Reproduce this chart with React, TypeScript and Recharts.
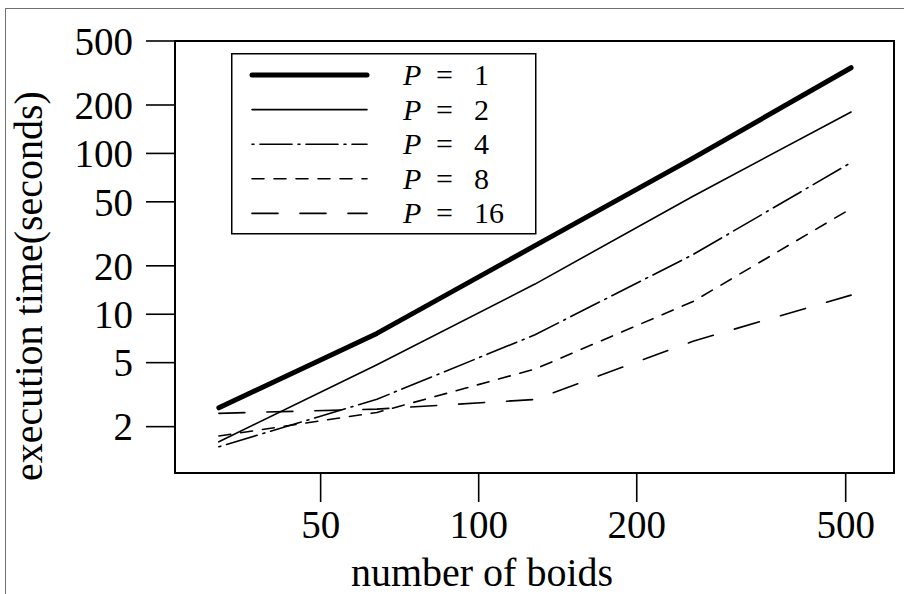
import { LineChart, Line, XAxis, YAxis, Legend, ReferenceArea } from "recharts";

// boids per run and wall-clock time for each processor count
const boids = [32, 64, 128, 256, 512];
const timeP1 = [2.62, 7.6, 26.7, 93.5, 341];
const timeP2 = [1.61, 4.85, 15.4, 54.2, 181];
const timeP4 = [1.5, 2.96, 7.45, 23.5, 87.7];
const timeP8 = [1.75, 2.45, 4.56, 12.0, 45.4];
const timeP16 = [2.42, 2.57, 2.95, 6.8, 13.15];

const xTicks = [50, 100, 200, 500];
const yTicks = [2, 5, 10, 20, 50, 100, 200, 500];

const xDomain = [26.4, 618];
const yDomain = [1.03, 500];

const series = [
  { key: "p1", procs: "1", width: 5, dash: undefined },
  { key: "p2", procs: "2", width: 1.6, dash: undefined },
  { key: "p4", procs: "4", width: 1.6, dash: "2 6 32 6" },
  { key: "p8", procs: "8", width: 1.6, dash: "12 10" },
  { key: "p16", procs: "16", width: 1.6, dash: "26 22" },
];

const data = boids.map((n, i) => ({
  n,
  p1: timeP1[i],
  p2: timeP2[i],
  p4: timeP4[i],
  p8: timeP8[i],
  p16: timeP16[i],
}));

const FONT = "'Liberation Serif', 'Times New Roman', serif";
const tickStyle = { fontFamily: FONT, fontSize: 39, fill: "#000" };

function LegendBox() {
  return (
    <svg width={306} height={182} style={{ display: "block" }}>
      <rect x={0.75} y={0.75} width={304} height={180} fill="#fff" stroke="#000" strokeWidth={1.5} />
      {series.map((s, i) => {
        const cy = 22 + i * 34.6;
        return (
          <g key={s.key}>
            <line
              x1={21}
              x2={136}
              y1={cy}
              y2={cy}
              stroke="#000"
              strokeWidth={s.width}
              strokeDasharray={s.dash}
              strokeLinecap="round"
            />
            <text y={cy + 10} fontFamily={FONT} fontSize={30} fill="#000">
              <tspan x={172} fontStyle="italic">P</tspan>
              <tspan x={205}>=</tspan>
              <tspan x={243}>{s.procs}</tspan>
            </text>
          </g>
        );
      })}
    </svg>
  );
}

function XTitle() {
  return (
    <text x={482} y={586} textAnchor="middle" fontFamily={FONT} fontSize={40} fill="#000">
      number of boids
    </text>
  );
}

function YTitle() {
  return (
    <text
      transform="translate(42,286) rotate(-90)"
      textAnchor="middle"
      fontFamily={FONT}
      fontSize={40}
      fill="#000"
    >
      execution time(seconds)
    </text>
  );
}

export default function App() {
  return (
    <div style={{ position: "absolute", left: 0, top: 0, width: 904, height: 594, background: "#fff", overflow: "hidden" }}>
      <div
        style={{
          position: "absolute",
          left: 5,
          top: 8,
          width: 1000,
          height: 700,
          borderTop: "1px solid #707070",
          borderLeft: "1px solid #707070",
        }}
      />
      <LineChart width={904} height={594} data={data} margin={{ top: 41, right: 10, left: 0, bottom: 0 }}>
        <XAxis
          dataKey="n"
          type="number"
          scale="log"
          domain={xDomain}
          allowDataOverflow
          ticks={xTicks}
          interval={0}
          tick={tickStyle}
          tickSize={29}
          tickMargin={8}
          tickLine={{ stroke: "#000", strokeWidth: 1.6 }}
          axisLine={false}
          height={121}
          label={<XTitle />}
        />
        <YAxis
          type="number"
          scale="log"
          domain={yDomain}
          allowDataOverflow
          ticks={yTicks}
          interval={0}
          tick={tickStyle}
          tickSize={29}
          tickMargin={13}
          tickLine={{ stroke: "#000", strokeWidth: 1.6 }}
          axisLine={false}
          width={175}
          label={<YTitle />}
        />
        <ReferenceArea
          x1={xDomain[0]}
          x2={xDomain[1]}
          y1={yDomain[0]}
          y2={yDomain[1]}
          fill="none"
          fillOpacity={0}
          stroke="#000"
          strokeWidth={2}
          ifOverflow="visible"
        />
        {series.map((s) => (
          <Line
            key={s.key}
            dataKey={s.key}
            name={`P = ${s.procs}`}
            type="linear"
            stroke="#000"
            strokeWidth={s.width}
            strokeDasharray={s.dash}
            strokeLinecap="round"
            strokeLinejoin="round"
            dot={false}
            activeDot={false}
            isAnimationActive={false}
          />
        ))}
        <Legend
          layout="vertical"
          align="center"
          verticalAlign="middle"
          content={() => <LegendBox />}
          wrapperStyle={{ position: "absolute", left: 231, top: 53, width: 306, height: 182 }}
        />
      </LineChart>
    </div>
  );
}
